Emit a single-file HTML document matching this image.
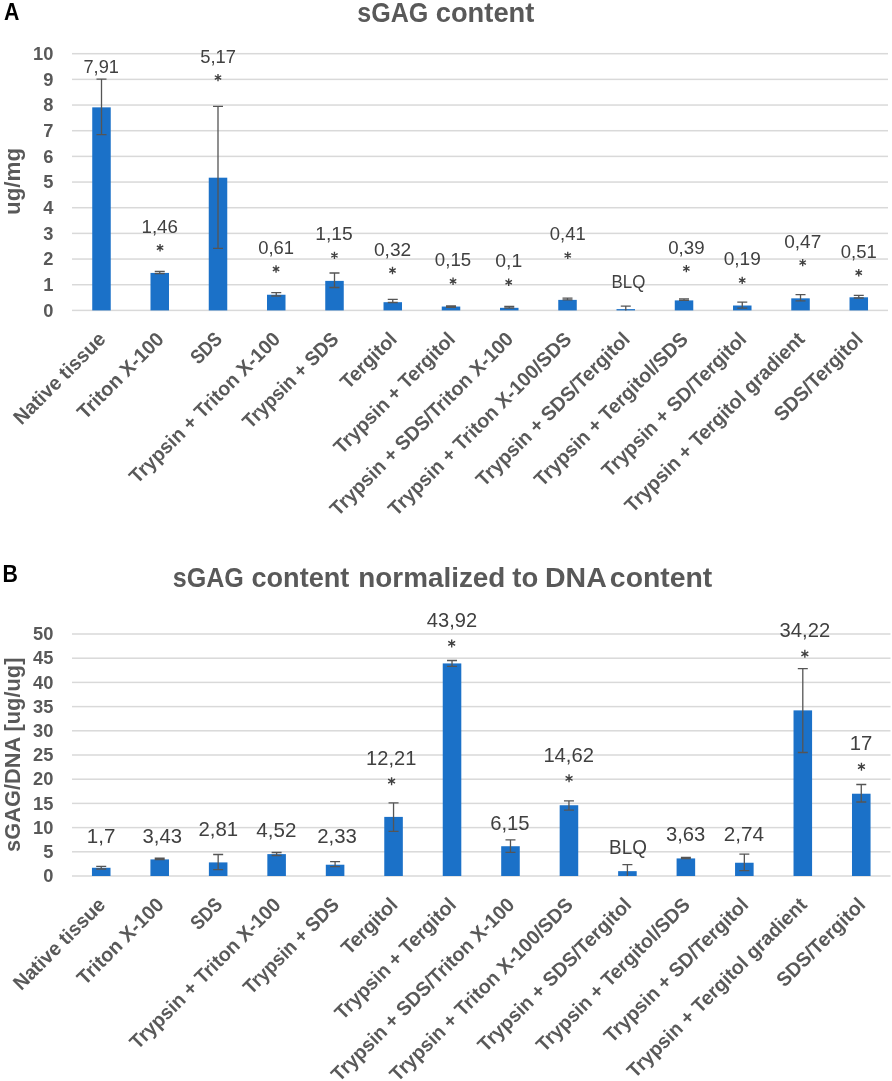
<!DOCTYPE html>
<html><head><meta charset="utf-8"><style>
html,body{margin:0;padding:0;background:#fff;width:892px;height:1081px;overflow:hidden}
svg{display:block;will-change:transform}
text{font-family:"Liberation Sans", sans-serif}
.tk{font-size:18.3px;font-weight:bold;fill:#595959}
.dl{font-size:19px;fill:#404040}
.ti{font-size:28px;font-weight:bold;fill:#595959}
.yt{font-size:21.7px;font-weight:bold;fill:#595959}
.lt{font-size:23px;font-weight:bold;fill:#000}
.cl{font-size:20.0px;font-weight:bold;fill:#595959}
</style></head>
<body><svg width="892" height="1081" viewBox="0 0 892 1081">
<rect width="892" height="1081" fill="#fff"/>
<rect x="72.0" y="309.65" width="816.0" height="1.5" fill="#d9d9d9"/>
<rect x="72.0" y="283.98" width="816.0" height="1.5" fill="#d9d9d9"/>
<rect x="72.0" y="258.31" width="816.0" height="1.5" fill="#d9d9d9"/>
<rect x="72.0" y="232.64" width="816.0" height="1.5" fill="#d9d9d9"/>
<rect x="72.0" y="206.97" width="816.0" height="1.5" fill="#d9d9d9"/>
<rect x="72.0" y="181.30" width="816.0" height="1.5" fill="#d9d9d9"/>
<rect x="72.0" y="155.63" width="816.0" height="1.5" fill="#d9d9d9"/>
<rect x="72.0" y="129.96" width="816.0" height="1.5" fill="#d9d9d9"/>
<rect x="72.0" y="104.29" width="816.0" height="1.5" fill="#d9d9d9"/>
<rect x="72.0" y="78.62" width="816.0" height="1.5" fill="#d9d9d9"/>
<rect x="72.0" y="52.95" width="816.0" height="1.5" fill="#d9d9d9"/>
<text x="53.4" y="316.60" text-anchor="end" class="tk">0</text>
<text x="53.4" y="290.93" text-anchor="end" class="tk">1</text>
<text x="53.4" y="265.26" text-anchor="end" class="tk">2</text>
<text x="53.4" y="239.59" text-anchor="end" class="tk">3</text>
<text x="53.4" y="213.92" text-anchor="end" class="tk">4</text>
<text x="53.4" y="188.25" text-anchor="end" class="tk">5</text>
<text x="53.4" y="162.58" text-anchor="end" class="tk">6</text>
<text x="53.4" y="136.91" text-anchor="end" class="tk">7</text>
<text x="53.4" y="111.24" text-anchor="end" class="tk">8</text>
<text x="53.4" y="85.57" text-anchor="end" class="tk">9</text>
<text x="53.4" y="59.90" text-anchor="end" class="tk">10</text>
<rect x="92.24" y="107.35" width="18.503401360544217" height="203.05" fill="#1b71c8"/>
<rect x="150.50" y="272.92" width="18.503401360544217" height="37.48" fill="#1b71c8"/>
<rect x="208.75" y="177.69" width="18.503401360544217" height="132.71" fill="#1b71c8"/>
<rect x="267.00" y="294.74" width="18.503401360544217" height="15.66" fill="#1b71c8"/>
<rect x="325.25" y="280.88" width="18.503401360544217" height="29.52" fill="#1b71c8"/>
<rect x="383.51" y="302.19" width="18.503401360544217" height="8.21" fill="#1b71c8"/>
<rect x="441.76" y="306.55" width="18.503401360544217" height="3.85" fill="#1b71c8"/>
<rect x="500.01" y="307.83" width="18.503401360544217" height="2.57" fill="#1b71c8"/>
<rect x="558.26" y="299.88" width="18.503401360544217" height="10.52" fill="#1b71c8"/>
<rect x="616.51" y="309.12" width="18.503401360544217" height="1.28" fill="#1b71c8"/>
<rect x="674.77" y="300.39" width="18.503401360544217" height="10.01" fill="#1b71c8"/>
<rect x="733.02" y="305.52" width="18.503401360544217" height="4.88" fill="#1b71c8"/>
<rect x="791.27" y="298.34" width="18.503401360544217" height="12.06" fill="#1b71c8"/>
<rect x="849.52" y="297.31" width="18.503401360544217" height="13.09" fill="#1b71c8"/>
<path d="M101.50 79.20V134.60M96.50 79.20H106.50M96.50 134.60H106.50" stroke="#555555" stroke-width="1.3" fill="none"/>
<path d="M159.75 271.30V273.50M154.75 271.30H164.75M154.75 273.50H164.75" stroke="#555555" stroke-width="1.3" fill="none"/>
<path d="M218.00 106.30V248.30M213.00 106.30H223.00M213.00 248.30H223.00" stroke="#555555" stroke-width="1.3" fill="none"/>
<path d="M276.25 292.60V296.00M271.25 292.60H281.25M271.25 296.00H281.25" stroke="#555555" stroke-width="1.3" fill="none"/>
<path d="M334.50 273.00V287.50M329.50 273.00H339.50M329.50 287.50H339.50" stroke="#555555" stroke-width="1.3" fill="none"/>
<path d="M392.76 299.40V302.50M387.76 299.40H397.76M387.76 302.50H397.76" stroke="#555555" stroke-width="1.3" fill="none"/>
<path d="M451.01 306.00V307.30M446.01 306.00H456.01M446.01 307.30H456.01" stroke="#555555" stroke-width="1.3" fill="none"/>
<path d="M509.26 306.50V308.20M504.26 306.50H514.26M504.26 308.20H514.26" stroke="#555555" stroke-width="1.3" fill="none"/>
<path d="M567.51 298.20V299.80M562.51 298.20H572.51M562.51 299.80H572.51" stroke="#555555" stroke-width="1.3" fill="none"/>
<path d="M625.77 306.20V310.40M620.77 306.20H630.77" stroke="#555555" stroke-width="1.3" fill="none"/>
<path d="M684.02 298.80V300.40M679.02 298.80H689.02M679.02 300.40H689.02" stroke="#555555" stroke-width="1.3" fill="none"/>
<path d="M742.27 302.20V308.10M737.27 302.20H747.27M737.27 308.10H747.27" stroke="#555555" stroke-width="1.3" fill="none"/>
<path d="M800.52 294.60V300.80M795.52 294.60H805.52M795.52 300.80H805.52" stroke="#555555" stroke-width="1.3" fill="none"/>
<path d="M858.77 295.40V298.00M853.77 295.40H863.77M853.77 298.00H863.77" stroke="#555555" stroke-width="1.3" fill="none"/>
<text x="83.49" y="72.70" textLength="35.45" lengthAdjust="spacingAndGlyphs" class="dl" style="font-size:19.0px">7,91</text>
<text x="141.50" y="232.70" textLength="36.46" lengthAdjust="spacingAndGlyphs" class="dl" style="font-size:19.0px">1,46</text>
<path d="M160.05 251.40L160.05 244.00M156.85 249.55L163.25 245.85M156.85 245.85L163.25 249.55" stroke="#404040" stroke-width="1.35" fill="none"/>
<text x="200.16" y="62.60" textLength="35.78" lengthAdjust="spacingAndGlyphs" class="dl" style="font-size:19.0px">5,17</text>
<path d="M218.00 81.30L218.00 73.90M214.80 79.45L221.20 75.75M214.80 75.75L221.20 79.45" stroke="#404040" stroke-width="1.35" fill="none"/>
<text x="258.16" y="254.00" textLength="35.89" lengthAdjust="spacingAndGlyphs" class="dl" style="font-size:19.0px">0,61</text>
<path d="M276.05 272.70L276.05 265.30M272.85 270.85L279.25 267.15M272.85 267.15L279.25 270.85" stroke="#404040" stroke-width="1.35" fill="none"/>
<text x="315.26" y="240.40" textLength="37.54" lengthAdjust="spacingAndGlyphs" class="dl" style="font-size:19.0px">1,15</text>
<path d="M334.45 259.10L334.45 251.70M331.25 257.25L337.65 253.55M331.25 253.55L337.65 257.25" stroke="#404040" stroke-width="1.35" fill="none"/>
<text x="373.93" y="255.50" textLength="37.25" lengthAdjust="spacingAndGlyphs" class="dl" style="font-size:19.0px">0,32</text>
<path d="M392.50 274.20L392.50 266.80M389.30 272.35L395.70 268.65M389.30 268.65L395.70 272.35" stroke="#404040" stroke-width="1.35" fill="none"/>
<text x="434.85" y="266.30" textLength="36.32" lengthAdjust="spacingAndGlyphs" class="dl" style="font-size:19.0px">0,15</text>
<path d="M453.05 285.00L453.05 277.60M449.85 283.15L456.25 279.45M449.85 279.45L456.25 283.15" stroke="#404040" stroke-width="1.35" fill="none"/>
<text x="495.32" y="267.30" textLength="26.94" lengthAdjust="spacingAndGlyphs" class="dl" style="font-size:19.0px">0,1</text>
<path d="M508.70 286.00L508.70 278.60M505.50 284.15L511.90 280.45M505.50 280.45L511.90 284.15" stroke="#404040" stroke-width="1.35" fill="none"/>
<text x="549.86" y="240.40" textLength="35.89" lengthAdjust="spacingAndGlyphs" class="dl" style="font-size:19.0px">0,41</text>
<path d="M567.75 259.10L567.75 251.70M564.55 257.25L570.95 253.55M564.55 253.55L570.95 257.25" stroke="#404040" stroke-width="1.35" fill="none"/>
<text x="611.55" y="288.30" textLength="33.81" lengthAdjust="spacingAndGlyphs" class="dl" style="font-size:19.0px">BLQ</text>
<text x="668.25" y="253.60" textLength="36.31" lengthAdjust="spacingAndGlyphs" class="dl" style="font-size:19.0px">0,39</text>
<path d="M686.35 272.30L686.35 264.90M683.15 270.45L689.55 266.75M683.15 266.75L689.55 270.45" stroke="#404040" stroke-width="1.35" fill="none"/>
<text x="723.74" y="265.40" textLength="37.04" lengthAdjust="spacingAndGlyphs" class="dl" style="font-size:19.0px">0,19</text>
<path d="M742.20 284.10L742.20 276.70M739.00 282.25L745.40 278.55M739.00 278.55L745.40 282.25" stroke="#404040" stroke-width="1.35" fill="none"/>
<text x="784.24" y="247.60" textLength="37.04" lengthAdjust="spacingAndGlyphs" class="dl" style="font-size:19.0px">0,47</text>
<path d="M802.70 266.30L802.70 258.90M799.50 264.45L805.90 260.75M799.50 260.75L805.90 264.45" stroke="#404040" stroke-width="1.35" fill="none"/>
<text x="840.86" y="257.70" textLength="35.89" lengthAdjust="spacingAndGlyphs" class="dl" style="font-size:19.0px">0,51</text>
<path d="M858.75 276.40L858.75 269.00M855.55 274.55L861.95 270.85M855.55 270.85L861.95 274.55" stroke="#404040" stroke-width="1.35" fill="none"/>
<text x="357.20" y="21.5" textLength="71.05" lengthAdjust="spacingAndGlyphs" class="ti">sGAG</text>
<text x="435.71" y="21.5" textLength="98.68" lengthAdjust="spacingAndGlyphs" class="ti">content</text>
<text transform="translate(19.6,215.0) rotate(-90)" x="0" y="0" textLength="67.19999999999999" lengthAdjust="spacingAndGlyphs" class="yt">ug/mg</text>
<text x="3.9" y="19.5" textLength="15.4" lengthAdjust="spacingAndGlyphs" class="lt">A</text>
<text transform="translate(106.80,340.40) rotate(-45)" x="-120.73" y="0" textLength="120.73" lengthAdjust="spacingAndGlyphs" class="cl">Native tissue</text>
<text transform="translate(165.05,340.40) rotate(-45)" x="-113.00" y="0" textLength="113.00" lengthAdjust="spacingAndGlyphs" class="cl">Triton X-100</text>
<text transform="translate(223.30,340.40) rotate(-45)" x="-35.24" y="0" textLength="35.24" lengthAdjust="spacingAndGlyphs" class="cl">SDS</text>
<text transform="translate(281.55,340.40) rotate(-45)" x="-203.91" y="0" textLength="203.91" lengthAdjust="spacingAndGlyphs" class="cl">Trypsin + Triton X-100</text>
<text transform="translate(339.80,340.40) rotate(-45)" x="-126.14" y="0" textLength="126.14" lengthAdjust="spacingAndGlyphs" class="cl">Trypsin + SDS</text>
<text transform="translate(398.06,340.40) rotate(-45)" x="-70.30" y="0" textLength="70.30" lengthAdjust="spacingAndGlyphs" class="cl">Tergitol</text>
<text transform="translate(456.31,340.40) rotate(-45)" x="-162.20" y="0" textLength="162.20" lengthAdjust="spacingAndGlyphs" class="cl">Trypsin + Tergitol</text>
<text transform="translate(514.56,340.40) rotate(-45)" x="-249.58" y="0" textLength="249.58" lengthAdjust="spacingAndGlyphs" class="cl">Trypsin + SDS/Triton X-100</text>
<text transform="translate(572.81,340.40) rotate(-45)" x="-249.58" y="0" textLength="249.58" lengthAdjust="spacingAndGlyphs" class="cl">Trypsin + Triton X-100/SDS</text>
<text transform="translate(631.07,340.40) rotate(-45)" x="-207.88" y="0" textLength="207.88" lengthAdjust="spacingAndGlyphs" class="cl">Trypsin + SDS/Tergitol</text>
<text transform="translate(689.32,340.40) rotate(-45)" x="-207.88" y="0" textLength="207.88" lengthAdjust="spacingAndGlyphs" class="cl">Trypsin + Tergitol/SDS</text>
<text transform="translate(747.57,340.40) rotate(-45)" x="-194.82" y="0" textLength="194.82" lengthAdjust="spacingAndGlyphs" class="cl">Trypsin + SD/Tergitol</text>
<text transform="translate(805.82,340.40) rotate(-45)" x="-244.83" y="0" textLength="244.83" lengthAdjust="spacingAndGlyphs" class="cl">Trypsin + Tergitol gradient</text>
<text transform="translate(864.07,340.40) rotate(-45)" x="-115.97" y="0" textLength="115.97" lengthAdjust="spacingAndGlyphs" class="cl">SDS/Tergitol</text>
<rect x="72.0" y="875.25" width="818.5" height="1.5" fill="#d9d9d9"/>
<rect x="72.0" y="851.05" width="818.5" height="1.5" fill="#d9d9d9"/>
<rect x="72.0" y="826.85" width="818.5" height="1.5" fill="#d9d9d9"/>
<rect x="72.0" y="802.65" width="818.5" height="1.5" fill="#d9d9d9"/>
<rect x="72.0" y="778.45" width="818.5" height="1.5" fill="#d9d9d9"/>
<rect x="72.0" y="754.25" width="818.5" height="1.5" fill="#d9d9d9"/>
<rect x="72.0" y="730.05" width="818.5" height="1.5" fill="#d9d9d9"/>
<rect x="72.0" y="705.85" width="818.5" height="1.5" fill="#d9d9d9"/>
<rect x="72.0" y="681.65" width="818.5" height="1.5" fill="#d9d9d9"/>
<rect x="72.0" y="657.45" width="818.5" height="1.5" fill="#d9d9d9"/>
<rect x="72.0" y="633.25" width="818.5" height="1.5" fill="#d9d9d9"/>
<text x="53.4" y="882.20" text-anchor="end" class="tk">0</text>
<text x="53.4" y="858.00" text-anchor="end" class="tk">5</text>
<text x="53.4" y="833.80" text-anchor="end" class="tk">10</text>
<text x="53.4" y="809.60" text-anchor="end" class="tk">15</text>
<text x="53.4" y="785.40" text-anchor="end" class="tk">20</text>
<text x="53.4" y="761.20" text-anchor="end" class="tk">25</text>
<text x="53.4" y="737.00" text-anchor="end" class="tk">30</text>
<text x="53.4" y="712.80" text-anchor="end" class="tk">35</text>
<text x="53.4" y="688.60" text-anchor="end" class="tk">40</text>
<text x="53.4" y="664.40" text-anchor="end" class="tk">45</text>
<text x="53.4" y="640.20" text-anchor="end" class="tk">50</text>
<rect x="91.95" y="867.77" width="18.560090702947846" height="8.23" fill="#1b71c8"/>
<rect x="150.42" y="859.40" width="18.560090702947846" height="16.60" fill="#1b71c8"/>
<rect x="208.88" y="862.40" width="18.560090702947846" height="13.60" fill="#1b71c8"/>
<rect x="267.34" y="854.12" width="18.560090702947846" height="21.88" fill="#1b71c8"/>
<rect x="325.81" y="864.72" width="18.560090702947846" height="11.28" fill="#1b71c8"/>
<rect x="384.27" y="816.90" width="18.560090702947846" height="59.10" fill="#1b71c8"/>
<rect x="442.74" y="663.43" width="18.560090702947846" height="212.57" fill="#1b71c8"/>
<rect x="501.20" y="846.23" width="18.560090702947846" height="29.77" fill="#1b71c8"/>
<rect x="559.67" y="805.24" width="18.560090702947846" height="70.76" fill="#1b71c8"/>
<rect x="618.13" y="871.16" width="18.560090702947846" height="4.84" fill="#1b71c8"/>
<rect x="676.59" y="858.43" width="18.560090702947846" height="17.57" fill="#1b71c8"/>
<rect x="735.06" y="862.74" width="18.560090702947846" height="13.26" fill="#1b71c8"/>
<rect x="793.52" y="710.38" width="18.560090702947846" height="165.62" fill="#1b71c8"/>
<rect x="851.99" y="793.72" width="18.560090702947846" height="82.28" fill="#1b71c8"/>
<path d="M101.23 866.30V869.00M96.23 866.30H106.23M96.23 869.00H106.23" stroke="#555555" stroke-width="1.3" fill="none"/>
<path d="M159.70 858.20V859.50M154.70 858.20H164.70M154.70 859.50H164.70" stroke="#555555" stroke-width="1.3" fill="none"/>
<path d="M218.16 854.50V869.60M213.16 854.50H223.16M213.16 869.60H223.16" stroke="#555555" stroke-width="1.3" fill="none"/>
<path d="M276.62 852.50V855.50M271.62 852.50H281.62M271.62 855.50H281.62" stroke="#555555" stroke-width="1.3" fill="none"/>
<path d="M335.09 861.60V866.60M330.09 861.60H340.09M330.09 866.60H340.09" stroke="#555555" stroke-width="1.3" fill="none"/>
<path d="M393.55 802.80V831.40M388.55 802.80H398.55M388.55 831.40H398.55" stroke="#555555" stroke-width="1.3" fill="none"/>
<path d="M452.02 660.50V666.30M447.02 660.50H457.02M447.02 666.30H457.02" stroke="#555555" stroke-width="1.3" fill="none"/>
<path d="M510.48 839.80V852.30M505.48 839.80H515.48M505.48 852.30H515.48" stroke="#555555" stroke-width="1.3" fill="none"/>
<path d="M568.95 800.80V810.20M563.95 800.80H573.95M563.95 810.20H573.95" stroke="#555555" stroke-width="1.3" fill="none"/>
<path d="M627.41 864.70V876.00M622.41 864.70H632.41" stroke="#555555" stroke-width="1.3" fill="none"/>
<path d="M685.88 857.50V858.50M680.88 857.50H690.88M680.88 858.50H690.88" stroke="#555555" stroke-width="1.3" fill="none"/>
<path d="M744.34 854.20V870.60M739.34 854.20H749.34M739.34 870.60H749.34" stroke="#555555" stroke-width="1.3" fill="none"/>
<path d="M802.80 668.60V752.50M797.80 668.60H807.80M797.80 752.50H807.80" stroke="#555555" stroke-width="1.3" fill="none"/>
<path d="M861.27 784.50V802.00M856.27 784.50H866.27M856.27 802.00H866.27" stroke="#555555" stroke-width="1.3" fill="none"/>
<text x="86.86" y="843.30" textLength="28.57" lengthAdjust="spacingAndGlyphs" class="dl" style="font-size:20.4px">1,7</text>
<text x="142.49" y="843.30" textLength="39.45" lengthAdjust="spacingAndGlyphs" class="dl" style="font-size:20.4px">3,43</text>
<text x="198.48" y="835.90" textLength="39.66" lengthAdjust="spacingAndGlyphs" class="dl" style="font-size:20.4px">2,81</text>
<text x="256.29" y="837.30" textLength="40.06" lengthAdjust="spacingAndGlyphs" class="dl" style="font-size:20.4px">4,52</text>
<text x="317.18" y="842.60" textLength="39.66" lengthAdjust="spacingAndGlyphs" class="dl" style="font-size:20.4px">2,33</text>
<text x="366.09" y="764.70" textLength="50.25" lengthAdjust="spacingAndGlyphs" class="dl" style="font-size:20.4px">12,21</text>
<path d="M391.60 785.20L391.60 777.20M388.14 783.20L395.06 779.20M388.14 779.20L395.06 783.20" stroke="#404040" stroke-width="1.35" fill="none"/>
<text x="426.80" y="626.90" textLength="50.25" lengthAdjust="spacingAndGlyphs" class="dl" style="font-size:20.4px">43,92</text>
<path d="M451.70 647.40L451.70 639.40M448.24 645.40L455.16 641.40M448.24 641.40L455.16 645.40" stroke="#404040" stroke-width="1.35" fill="none"/>
<text x="490.19" y="830.40" textLength="39.45" lengthAdjust="spacingAndGlyphs" class="dl" style="font-size:20.4px">6,15</text>
<text x="543.38" y="761.80" textLength="50.57" lengthAdjust="spacingAndGlyphs" class="dl" style="font-size:20.4px">14,62</text>
<path d="M569.05 782.30L569.05 774.30M565.59 780.30L572.51 776.30M565.59 776.30L572.51 780.30" stroke="#404040" stroke-width="1.35" fill="none"/>
<text x="609.09" y="854.10" textLength="37.77" lengthAdjust="spacingAndGlyphs" class="dl" style="font-size:20.4px">BLQ</text>
<text x="665.99" y="841.30" textLength="39.34" lengthAdjust="spacingAndGlyphs" class="dl" style="font-size:20.4px">3,63</text>
<text x="723.67" y="841.30" textLength="40.27" lengthAdjust="spacingAndGlyphs" class="dl" style="font-size:20.4px">2,74</text>
<text x="779.59" y="637.30" textLength="50.56" lengthAdjust="spacingAndGlyphs" class="dl" style="font-size:20.4px">34,22</text>
<path d="M804.85 657.80L804.85 649.80M801.39 655.80L808.31 651.80M801.39 651.80L808.31 655.80" stroke="#404040" stroke-width="1.35" fill="none"/>
<text x="849.78" y="750.20" textLength="22.58" lengthAdjust="spacingAndGlyphs" class="dl" style="font-size:20.4px">17</text>
<path d="M861.45 770.70L861.45 762.70M857.99 768.70L864.91 764.70M857.99 764.70L864.91 768.70" stroke="#404040" stroke-width="1.35" fill="none"/>
<text x="172.70" y="586.5" textLength="71.16" lengthAdjust="spacingAndGlyphs" class="ti">sGAG</text>
<text x="251.52" y="586.5" textLength="97.77" lengthAdjust="spacingAndGlyphs" class="ti">content</text>
<text x="358.25" y="586.5" textLength="147.08" lengthAdjust="spacingAndGlyphs" class="ti">normalized</text>
<text x="512.22" y="586.5" textLength="25.98" lengthAdjust="spacingAndGlyphs" class="ti">to</text>
<text x="545.00" y="586.5" textLength="61.75" lengthAdjust="spacingAndGlyphs" class="ti">DNA</text>
<text x="609.87" y="586.5" textLength="102.43" lengthAdjust="spacingAndGlyphs" class="ti">content</text>
<text transform="translate(19.6,851.9) rotate(-90)" x="0" y="0" textLength="194.29999999999995" lengthAdjust="spacingAndGlyphs" class="yt">sGAG/DNA [ug/ug]</text>
<text x="2.6" y="582.0" textLength="15.4" lengthAdjust="spacingAndGlyphs" class="lt">B</text>
<text transform="translate(106.53,906.00) rotate(-45)" x="-120.73" y="0" textLength="120.73" lengthAdjust="spacingAndGlyphs" class="cl">Native tissue</text>
<text transform="translate(165.00,906.00) rotate(-45)" x="-113.00" y="0" textLength="113.00" lengthAdjust="spacingAndGlyphs" class="cl">Triton X-100</text>
<text transform="translate(223.46,906.00) rotate(-45)" x="-35.24" y="0" textLength="35.24" lengthAdjust="spacingAndGlyphs" class="cl">SDS</text>
<text transform="translate(281.93,906.00) rotate(-45)" x="-203.91" y="0" textLength="203.91" lengthAdjust="spacingAndGlyphs" class="cl">Trypsin + Triton X-100</text>
<text transform="translate(340.39,906.00) rotate(-45)" x="-126.14" y="0" textLength="126.14" lengthAdjust="spacingAndGlyphs" class="cl">Trypsin + SDS</text>
<text transform="translate(398.85,906.00) rotate(-45)" x="-70.30" y="0" textLength="70.30" lengthAdjust="spacingAndGlyphs" class="cl">Tergitol</text>
<text transform="translate(457.32,906.00) rotate(-45)" x="-162.20" y="0" textLength="162.20" lengthAdjust="spacingAndGlyphs" class="cl">Trypsin + Tergitol</text>
<text transform="translate(515.78,906.00) rotate(-45)" x="-249.58" y="0" textLength="249.58" lengthAdjust="spacingAndGlyphs" class="cl">Trypsin + SDS/Triton X-100</text>
<text transform="translate(574.25,906.00) rotate(-45)" x="-249.58" y="0" textLength="249.58" lengthAdjust="spacingAndGlyphs" class="cl">Trypsin + Triton X-100/SDS</text>
<text transform="translate(632.71,906.00) rotate(-45)" x="-207.88" y="0" textLength="207.88" lengthAdjust="spacingAndGlyphs" class="cl">Trypsin + SDS/Tergitol</text>
<text transform="translate(691.17,906.00) rotate(-45)" x="-207.88" y="0" textLength="207.88" lengthAdjust="spacingAndGlyphs" class="cl">Trypsin + Tergitol/SDS</text>
<text transform="translate(749.64,906.00) rotate(-45)" x="-194.82" y="0" textLength="194.82" lengthAdjust="spacingAndGlyphs" class="cl">Trypsin + SD/Tergitol</text>
<text transform="translate(808.10,906.00) rotate(-45)" x="-244.83" y="0" textLength="244.83" lengthAdjust="spacingAndGlyphs" class="cl">Trypsin + Tergitol gradient</text>
<text transform="translate(866.57,906.00) rotate(-45)" x="-115.97" y="0" textLength="115.97" lengthAdjust="spacingAndGlyphs" class="cl">SDS/Tergitol</text>
</svg></body></html>
